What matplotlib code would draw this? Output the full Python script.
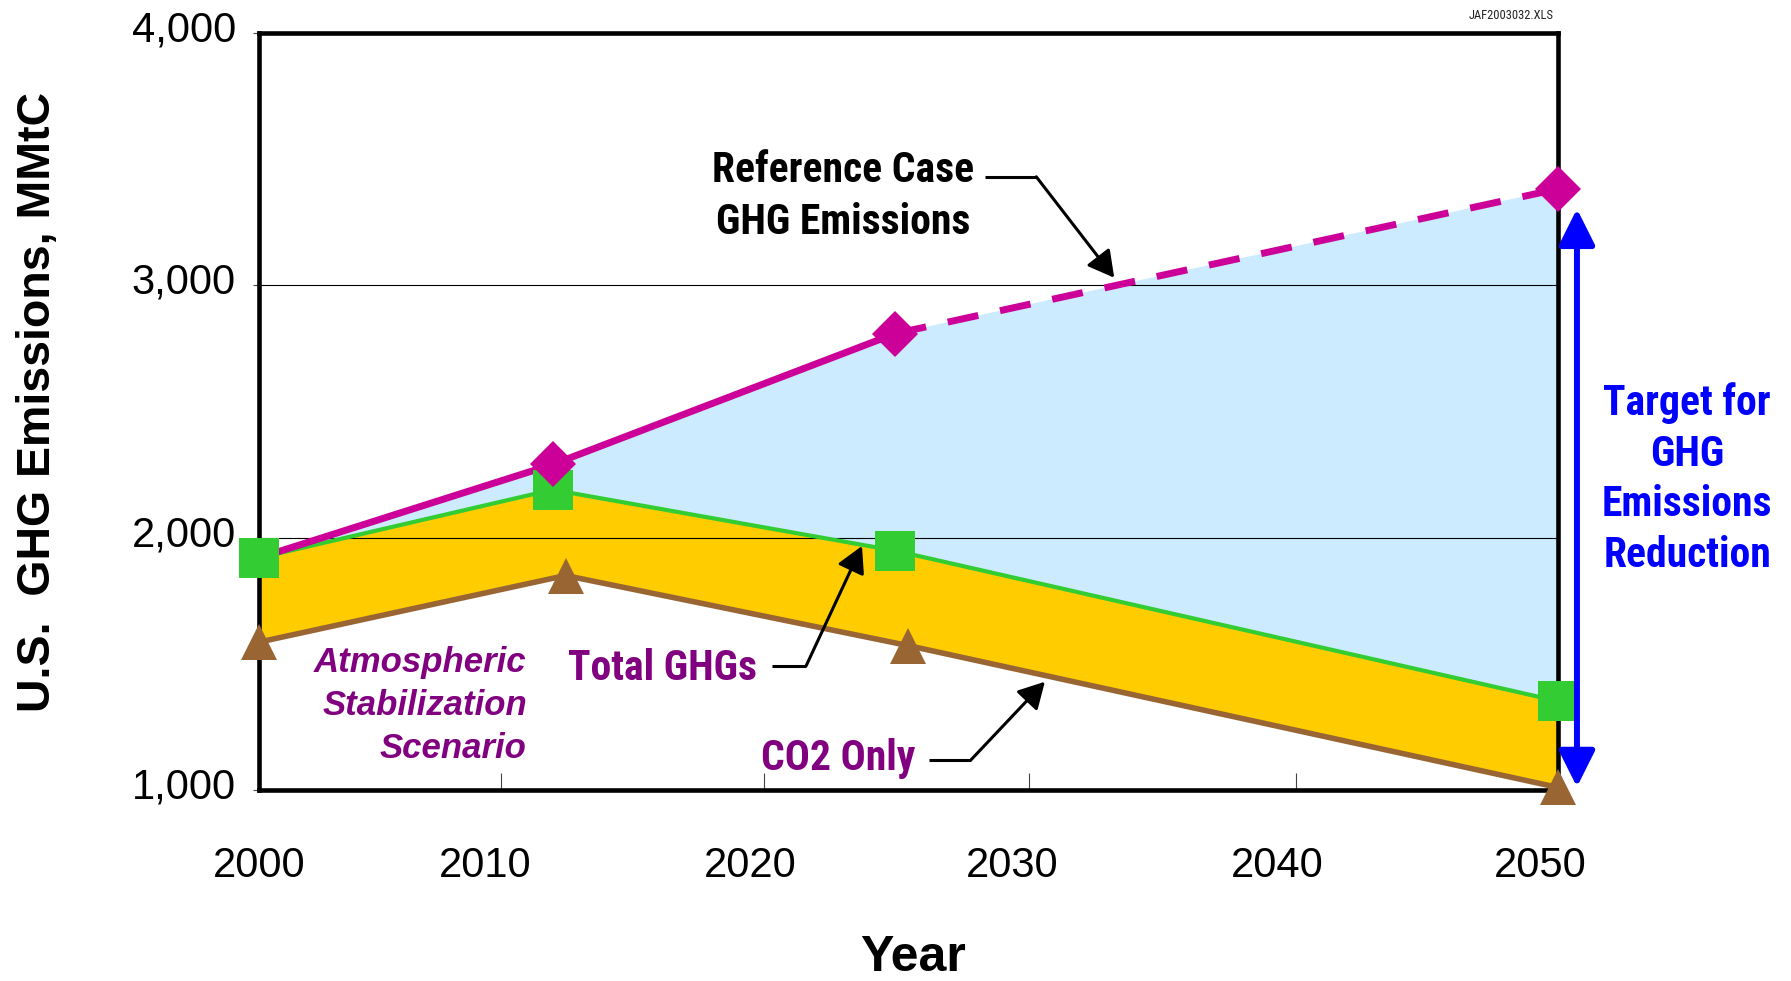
import matplotlib
matplotlib.use("Agg")
import matplotlib.pyplot as plt
import numpy as np
from matplotlib import font_manager
from matplotlib.transforms import ScaledTranslation

# --- fonts: a narrow bold face for the callouts ---
installed = {f.name for f in font_manager.fontManager.ttflist}
NARROW = next((n for n in ["Liberation Sans Narrow", "Arial Narrow", "Roboto Condensed"]
               if n in installed), "Liberation Sans")
BASE = "Liberation Sans"
plt.rcParams["font.family"] = [BASE, "DejaVu Sans"]

# --- data (MMtC) ---
ref_years = [2011.3, 2024.5, 2050]          # reference case, diamond points
ref_vals = [2290, 2809, 3382]
ref_line_years = [2000, 2011.3, 2024.5]     # solid part of the reference line
ref_line_vals = [1920, 2290, 2809]
ref_proj_years = [2024.5, 2050]             # dashed projection
ref_proj_vals = [2809, 3382]

total_years = [2000, 2011.3, 2024.5, 2050]  # total GHGs, stabilization scenario
total_vals = [1920, 2190, 1948, 1352]

co2_years = [2000, 2011.8, 2025, 2050]      # CO2 only, stabilization scenario
co2_vals = [1586, 1850, 1572, 1010]

# reference envelope used for the light blue wedge
wedge_years = ref_line_years + ref_proj_years[1:]
wedge_vals = ref_line_vals + ref_proj_vals[1:]

# axis labelling
ytick_vals = [1000, 2000, 3000, 4000]
ytick_text = ["1,000", "2,000", "3,000", "4,000"]
xtick_text = ["2000", "2010", "2020", "2030", "2040", "2050"]

MAGENTA = "#CC0099"
GREEN = "#33CC33"
BROWN = "#996633"
GOLD = "#FFCC00"
SKY = "#CCEBFF"
PURPLE = "#800080"
BLUE = "#0000FF"

fig = plt.figure(figsize=(17.91, 9.81), dpi=100)
ax = fig.add_axes([0.1446, 0.1947, 0.7253, 0.7717])

# shaded bands
ax.fill(np.r_[wedge_years, total_years[::-1]], np.r_[wedge_vals, total_vals[::-1]],
        color=SKY, lw=0, zorder=1)
ax.fill(np.r_[total_years, co2_years[::-1]], np.r_[total_vals, co2_vals[::-1]],
        color=GOLD, lw=0, zorder=1)

# series lines
ax.plot(co2_years, co2_vals, color=BROWN, lw=4, zorder=3)
ax.plot(total_years, total_vals, color=GREEN, lw=3, zorder=3)
ax.plot(ref_line_years, ref_line_vals, color=MAGENTA, lw=5, zorder=3)
ax.plot(ref_proj_years, ref_proj_vals, color=MAGENTA, lw=5, zorder=3,
        dashes=(4.5, 3.2), dash_capstyle="butt")

# markers
ax.plot(co2_years, co2_vals, ls="none", marker="^", ms=26, color=BROWN, mew=0,
        zorder=5, clip_on=False)
ax.plot(total_years, total_vals, ls="none", marker="s", ms=29, color=GREEN, mew=0,
        zorder=5, clip_on=False)
ax.plot(ref_years, ref_vals, ls="none", marker="D", ms=23, color=MAGENTA, mew=0,
        zorder=6, clip_on=False)

# axes frame and scales
ax.set_xlim(2000, 2050)
ax.set_ylim(1000, 4000)
for sp in ax.spines.values():
    sp.set_linewidth(3.3)
    sp.set_color("black")
    sp.set_zorder(4)

ax.set_axisbelow(False)
ax.set_yticks(ytick_vals)
ax.set_yticklabels(ytick_text, fontsize=30)
ax.tick_params(axis="y", direction="out", length=4.5, width=0.8, color="#444444", pad=12)
ax.yaxis.grid(True, color="black", lw=0.8)
ax.xaxis.grid(False)
shift = ScaledTranslation(0, 5 / 72, fig.dpi_scale_trans)
for lab in ax.get_yticklabels():
    lab.set_transform(lab.get_transform() + shift)

ax.set_xticks([2000, 2008.7, 2018.9, 2029.0, 2039.2, 2049.3])
ax.set_xticklabels(xtick_text, fontsize=30)
ax.tick_params(axis="x", which="major", length=0, pad=40)
ax.set_xticks([2009.3, 2019.45, 2029.65, 2039.9], minor=True)
ax.tick_params(axis="x", which="minor", direction="in", length=12.5, width=0.8,
               color="#444444")

fig.text(0.021, 0.590, "U.S.  GHG Emissions, MMtC", rotation=90, ha="center",
         va="center", fontsize=33.5, fontweight="bold")
fig.text(0.510, 0.010, "Year", ha="center", va="baseline", fontsize=36,
         fontweight="bold")
fig.text(0.8677, 0.984, "JAF2003032.XLS", ha="right", va="center", fontsize=9,
         family=NARROW, color="#222222")

# callouts (va="baseline" pins the last line's baseline)
ax.text(2022.5, 3204, "Reference Case\nGHG Emissions", ha="center", va="baseline",
        fontsize=30, fontweight="bold", family=NARROW, linespacing=1.34, zorder=7)
ax.text(2019.17, 1437, "Total GHGs", ha="right", va="baseline", fontsize=30,
        fontweight="bold", family=NARROW, color=PURPLE, zorder=7)
ax.text(2025.25, 1080, "CO2 Only", ha="right", va="baseline", fontsize=30,
        fontweight="bold", family=NARROW, color=PURPLE, zorder=7)
ax.text(2010.31, 1128, "Atmospheric\nStabilization\nScenario", ha="right",
        va="baseline", multialignment="right", fontsize=25, fontweight="bold",
        style="italic", color=PURPLE, linespacing=1.38, zorder=7)
ax.text(2054.97, 1884, "Target for\nGHG\nEmissions\nReduction", ha="center",
        va="baseline", multialignment="center", fontsize=30, fontweight="bold",
        family=NARROW, color=BLUE, linespacing=1.3, clip_on=False, zorder=7)

leaders = [
    ((2027.96, 2029.92), 3430, (2032.92, 3030)),
    ((2019.75, 2021.06), 1492, (2023.21, 1967)),
    ((2025.79, 2027.41), 1120, (2030.25, 1429)),
]
for (x0, x1), y, tip in leaders:
    ax.plot([x0, x1], [y, y], color="black", lw=2.2, zorder=7,
            solid_capstyle="butt", clip_on=False)
    ax.annotate("", xy=tip, xytext=(x1, y), zorder=7,
                arrowprops=dict(arrowstyle="-|>,head_length=1.0,head_width=0.55",
                                mutation_scale=16, color="black", lw=2.2,
                                shrinkA=0, shrinkB=0))

# reduction target span
ax.annotate("", xy=(2050.73, 3303), xytext=(2050.73, 1012), annotation_clip=False,
            zorder=7,
            arrowprops=dict(arrowstyle="<|-|>,head_length=1.0,head_width=0.5",
                            mutation_scale=22, color=BLUE, lw=4.3,
                            shrinkA=0, shrinkB=0))

fig.savefig("out.png", dpi=100)
